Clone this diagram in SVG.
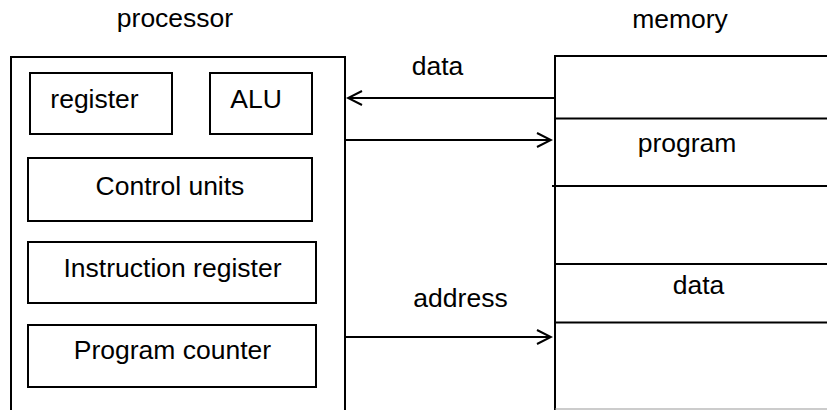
<svg xmlns="http://www.w3.org/2000/svg" width="827" height="410" viewBox="0 0 827 410">
<style>
.box{fill:none;stroke:#000;stroke-width:2}
.ln{fill:none;stroke:#000;stroke-width:2}
text{font-family:"Liberation Sans",Arial,sans-serif;font-size:26.5px;fill:#000;text-anchor:middle}
</style>
<defs>
<marker id="ah" viewBox="0 0 20 20" refX="18" refY="10" markerWidth="20" markerHeight="20" markerUnits="userSpaceOnUse" orient="auto">
<path d="M4,3 L18,10 L4,17" fill="none" stroke="#000" stroke-width="2"/>
</marker>
</defs>
<rect width="827" height="410" fill="#fff"/>
<text x="175" y="27">processor</text>
<text x="680" y="28">memory</text>
<g id="processor">
<path class="box" d="M11,410 V57 H345 V410"/>
</g>
<g id="register"><rect class="box" x="30" y="73" width="142" height="61"/><text x="94.5" y="108">register</text></g>
<g id="alu"><rect class="box" x="210" y="73" width="102" height="61"/><text x="256" y="108">ALU</text></g>
<g id="control"><rect class="box" x="28" y="158" width="284" height="63"/><text x="170" y="195">Control units</text></g>
<g id="ir"><rect class="box" x="28" y="242" width="288" height="61"/><text x="172.5" y="277">Instruction register</text></g>
<g id="pc"><rect class="box" x="28" y="325" width="288" height="62"/><text x="172.5" y="359">Program counter</text></g>
<g id="memory">
<path class="box" d="M555,410 V56 H827"/>
<line class="ln" x1="555" y1="118.5" x2="827" y2="118.5"/>
<line class="ln" x1="552" y1="186" x2="827" y2="186"/>
<line class="ln" x1="555" y1="264" x2="827" y2="264"/>
<line class="ln" x1="555" y1="322.5" x2="827" y2="322.5"/>
<line x1="555" y1="409" x2="827" y2="409" stroke="#999" stroke-width="1"/>
<text x="687" y="152">program</text>
<text x="698.5" y="294">data</text>
</g>
<g id="connectors">
<line class="ln" x1="555" y1="98" x2="348" y2="98" marker-end="url(#ah)"/>
<line class="ln" x1="345" y1="140" x2="551" y2="140" marker-end="url(#ah)"/>
<line class="ln" x1="345" y1="337" x2="551" y2="337" marker-end="url(#ah)"/>
<text x="437.5" y="75">data</text>
<text x="460.5" y="307">address</text>
</g>
</svg>
